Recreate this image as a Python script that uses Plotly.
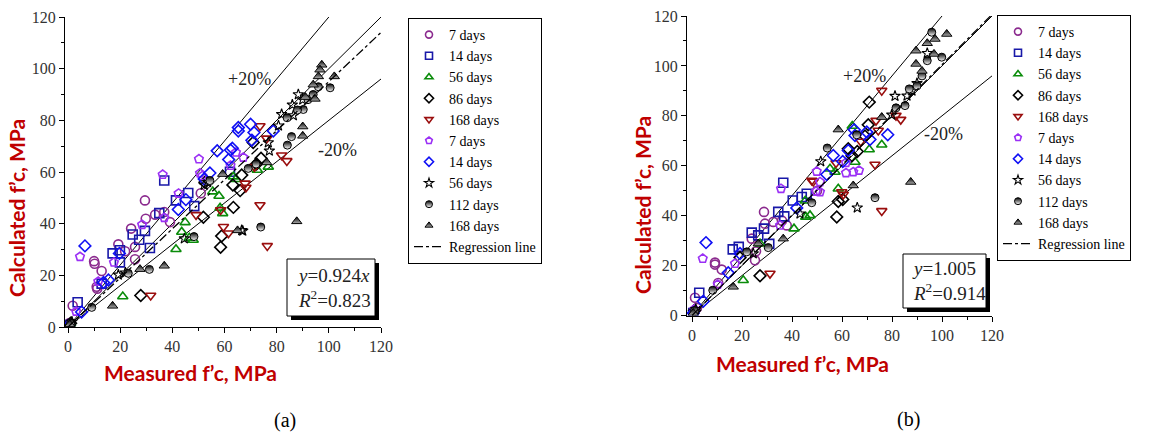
import plotly.graph_objects as go

# ---------------- data: panel (a) ----------------
a_c7_x = [0.5, 1.8, 10, 10.2, 12.9, 11, 11.2, 19.3, 21.9, 24.2, 25.7, 25.7, 29.5, 29.8, 33.4, 36.9, 39.1, 50.9]
a_c7_y = [1.5, 8.2, 25.5, 24.5, 21.7, 15.6, 14.8, 32, 29.3, 38.1, 31, 26.2, 49, 41.9, 43.5, 44.5, 40.6, 51.8]
a_s14_x = [0.3, 3.7, 12.9, 17.1, 19.9, 19.9, 24.8, 27.3, 29.5, 31.4, 35, 36.9, 41.4, 46.1, 48.4, 62.1]
a_s14_y = [0.8, 9.6, 16.8, 28.5, 29.7, 25, 35.8, 33.8, 37.2, 30.6, 44.1, 56.7, 49, 51.9, 46.8, 60.1]
a_t56_x = [1, 21, 41.4, 43.6, 44.9, 46.5, 48, 55.5, 57.9, 58.3, 59.3, 63.4, 64.4, 72.6, 76.8]
a_t56_y = [1.5, 11.8, 30.1, 36.8, 40.5, 34.5, 33.7, 52.4, 50.7, 46.1, 44, 58.2, 57.2, 60.8, 62]
a_d86_x = [1, 27.9, 51.9, 52.5, 58.5, 58.9, 63.4, 63.2, 66, 66.6, 71, 72.3, 74]
a_d86_y = [1.5, 12.2, 42.5, 56, 30.9, 35.2, 46.3, 55, 52.8, 58.8, 71.4, 63.1, 65.3]
a_v168_x = [31.7, 49.1, 58.5, 59.6, 61.5, 67.9, 68.2, 71.5, 73.6, 76.4, 73.6, 76.2, 81.9, 83.9]
a_v168_y = [12.2, 43.4, 45.3, 38.8, 36.3, 55.6, 54, 62, 47.2, 31.4, 77.8, 73, 66.5, 64.3]
a_p7_x = [3.1, 4.6, 11.6, 17.6, 28.4, 36.9, 42.4, 36.3, 50.2, 50.6, 51.5, 64.4, 67.2, 62.3]
a_p7_y = [6, 27.2, 17.6, 25, 39.6, 42.3, 51.7, 59, 65, 59.5, 58.5, 67.6, 65.6, 62.5]
a_d14_x = [0.2, 5.2, 6.5, 13.6, 15.5, 19.7, 42.3, 45.2, 52.2, 54.4, 57.2, 61.6, 62.3, 63, 65.3, 65.3, 70, 71.3, 70.5, 78.7]
a_d14_y = [0.5, 5.8, 31.4, 17.2, 18.2, 28.5, 45.5, 49.3, 57.3, 59.6, 68.2, 64.8, 68.5, 69.2, 77.2, 75.9, 78.5, 75.3, 72.3, 75.9]
a_st56_x = [1.5, 19.3, 22, 44.6, 52.2, 53.5, 66.6, 67, 76.8, 77.2, 80.7, 81.9, 86.4, 88.3, 86, 90]
a_st56_y = [2, 20.2, 21, 34.2, 55, 56, 37.4, 37.2, 71.4, 68.2, 77.9, 82.3, 81.9, 90, 86, 88]
a_h112_x = [1, 9.1, 23.1, 31.2, 48.3, 54.4, 69.1, 72.1, 73.9, 84.1, 85.7, 90.2, 100.5, 88, 92, 94, 96, 84]
a_h112_y = [1.5, 7.6, 20.8, 22.3, 35, 56.7, 61.4, 63.1, 38.7, 70.4, 73.7, 84.2, 92.6, 84, 88, 90, 93, 81]
a_t168_x = [0.7, 17.1, 27.6, 36.9, 59.3, 65, 76.2, 87.7, 90, 90, 94.7, 97.3, 96.6, 96, 102.1, 94, 91]
a_t168_y = [1, 8.2, 22.4, 23.7, 59.2, 37.4, 63.7, 40.9, 77.6, 74, 88.3, 101.5, 99.6, 97, 97, 93.8, 89]

# ---------------- data: panel (b) ----------------
b_c7_x = [1.2, 2, 9.2, 9.2, 11.9, 10.5, 23.9, 25.2, 25.6, 28.8, 29.2, 32.5, 37.9, 36, 50]
b_c7_y = [7.1, 3, 21.2, 20.4, 18.4, 13, 30.8, 22.1, 25.7, 41.5, 36.8, 37.5, 36.1, 38, 50]
b_s14_x = [0.5, 2.9, 16.3, 18.7, 23.9, 26.5, 28.8, 30.9, 34.5, 36.9, 36.5, 40.3, 43.9, 45.9]
b_s14_y = [1, 9.1, 26.5, 27.5, 33.2, 32.1, 34.8, 28.7, 41.5, 39.7, 53.2, 46.1, 47.5, 48.8]
b_t56_x = [20.5, 27.2, 40.8, 47.2, 45.5, 45.3, 55.2, 57.2, 58.5, 65.2, 64.1, 70.9, 75.9]
b_t56_y = [14.1, 28.8, 34.8, 40.1, 39.5, 46, 58.8, 57.5, 50.8, 61.5, 75.9, 66.5, 68.4]
b_d86_x = [1, 19.2, 27.2, 57.9, 58.5, 60.3, 62.5, 64, 66.1, 69.2, 70.5, 70.9]
b_d86_y = [2, 23.2, 15.9, 39.5, 45.7, 46.5, 66.8, 64, 65.7, 71.9, 76.4, 85.5]
b_v168_x = [31.2, 47.9, 48.5, 57.6, 59.9, 60.5, 67.5, 73.2, 73.6, 74.5, 75.9, 75.9, 81.6, 83.5]
b_v168_y = [16.8, 54.1, 53.7, 61.1, 49.5, 48.5, 69.7, 60.5, 78.1, 74.1, 90.1, 41.9, 80.1, 78.5]
b_p7_x = [1, 4.3, 10.3, 17.2, 35.2, 35.6, 49.6, 49.9, 51.2, 51.2, 61.6, 61.6, 64.5, 66.8]
b_p7_y = [2.5, 22.8, 12.4, 20.8, 36.1, 50.8, 49.7, 57.7, 53.5, 49.5, 57.1, 61.2, 57.5, 58.1]
b_d14_x = [0.5, 4.5, 5.6, 14.5, 19.2, 41.9, 53.9, 56.5, 60.3, 62.5, 64.9, 65.2, 69.9, 71.2, 78.3]
b_d14_y = [1, 5.7, 29.2, 17.1, 24.8, 43.1, 56.5, 64.1, 61.7, 66.1, 74.4, 72.1, 73.5, 70.5, 72.4]
b_st56_x = [1.5, 24.5, 43.2, 51.5, 66.1, 79.9, 81.2, 86, 88, 90, 94.1]
b_st56_y = [2.5, 24.8, 40.8, 61.7, 43.2, 80.4, 87.9, 88, 90, 93, 105.1]
b_h112_x = [1, 8.3, 21.9, 30.5, 47.9, 54.1, 65.9, 73.2, 81.6, 85.2, 86.9, 90, 92, 94.1, 95.9, 99.9]
b_h112_y = [2, 10.1, 25.5, 27.2, 45.2, 67.1, 72.4, 47.2, 83.2, 84.1, 90.8, 92, 96, 102.1, 113.5, 103.5]
b_t168_x = [0.5, 16.5, 26.5, 36.5, 58.5, 64.5, 75.9, 87.5, 89.6, 89.6, 92, 94.1, 96.8, 97.2, 101.9]
b_t168_y = [1, 11.5, 28.8, 30.8, 74.5, 52.1, 79.5, 53.5, 100.8, 106.1, 98, 109.1, 104.8, 110.8, 112.8]

# guide lines and regression
guide_x = [0, 120]
upper_x = [0, 100]
slope_upper, slope_equal, slope_lower = 1.2, 1.0, 0.8
reg_a_x, reg_a_y = [0, 120], [0, 114]      # dash-dot line as drawn in (a)
reg_b_x, reg_b_y = [0, 120], [0, 120.6]    # y = 1.005x in (b)

legend_names = ["7 days", "14 days", "56 days", "86 days", "168 days",
                "7 days", "14 days", "56 days", "112 days", "168 days"]

W, H = 1154, 434

def px(x):
    return x / W

def py(y):
    return 1 - y / H

SERIF = "Liberation Serif"

styles = [
    dict(symbol="circle-open", color="#8B2A8E", size=9, lw=1.6),
    dict(symbol="square-open", color="#1818A8", size=9, lw=1.6),
    dict(symbol="triangle-up-open", color="#0A8C0A", size=9, lw=1.6),
    dict(symbol="diamond-open", color="#000000", size=9, lw=1.6),
    dict(symbol="triangle-down-open", color="#9A0E0E", size=9, lw=1.6),
    dict(symbol="pentagon-open", color="#9B30F5", size=9, lw=1.6),
    dict(symbol="diamond-open", color="#1010F5", size=9, lw=1.6),
    dict(symbol="star-open", color="#000000", size=8, lw=1.1),
    dict(symbol="circle", color="#000000", size=8, lw=1, gradient=dict(type="vertical", color="#ffffff")),
    dict(symbol="triangle-up", color="#000000", size=9, lw=1, gradient=dict(type="vertical", color="#b0b0b0")),
]

series_a = [(a_c7_x, a_c7_y), (a_s14_x, a_s14_y), (a_t56_x, a_t56_y), (a_d86_x, a_d86_y),
            (a_v168_x, a_v168_y), (a_p7_x, a_p7_y), (a_d14_x, a_d14_y), (a_st56_x, a_st56_y),
            (a_h112_x, a_h112_y), (a_t168_x, a_t168_y)]
series_b = [(b_c7_x, b_c7_y), (b_s14_x, b_s14_y), (b_t56_x, b_t56_y), (b_d86_x, b_d86_y),
            (b_v168_x, b_v168_y), (b_p7_x, b_p7_y), (b_d14_x, b_d14_y), (b_st56_x, b_st56_y),
            (b_h112_x, b_h112_y), (b_t168_x, b_t168_y)]

def marker(st, size):
    is_open = st["symbol"].endswith("open")
    m = dict(symbol=st["symbol"], size=size, color=st["color"],
             line=dict(color=st["color"] if is_open else "#000000", width=st["lw"]))
    if "gradient" in st:
        m["gradient"] = st["gradient"]
    return m

fig = go.Figure()

for panel, (series, xa, ya, lg, reg) in enumerate([
        (series_a, "x", "y", "legend", (reg_a_x, reg_a_y)),
        (series_b, "x2", "y2", "legend2", (reg_b_x, reg_b_y))]):
    for xs, slope in [(upper_x, slope_upper), (guide_x, slope_equal), (guide_x, slope_lower)]:
        fig.add_trace(go.Scatter(x=xs, y=[v * slope for v in xs], mode="lines",
                                 line=dict(color="black", width=1), xaxis=xa, yaxis=ya,
                                 showlegend=False, hoverinfo="skip"))
    for (sx, sy), st, name in zip(series, styles, legend_names):
        fig.add_trace(go.Scatter(x=sx, y=sy, mode="markers", marker=marker(st, st["size"]),
                                 xaxis=xa, yaxis=ya, showlegend=False, name=name))
        fig.add_trace(go.Scatter(x=[None], y=[None], mode="markers", marker=marker(st, 7),
                                 xaxis=xa, yaxis=ya, showlegend=True, legend=lg, name=name))
    fig.add_trace(go.Scatter(x=reg[0], y=reg[1], mode="lines",
                             line=dict(color="black", width=1.3, dash="dashdot"),
                             xaxis=xa, yaxis=ya, showlegend=True, legend=lg, name="Regression line"))

axis_common = dict(showline=True, linecolor="black", linewidth=1, ticks="outside", ticklen=5,
                   tickwidth=1, tickcolor="black", dtick=20, tick0=0, showgrid=False, zeroline=False,
                   automargin=False,
                   tickfont=dict(family=SERIF, size=16, color="#333333"),
                   minor=dict(ticks="outside", ticklen=3, tickcolor="black", dtick=10, showgrid=False))

legend_common = dict(xanchor="left", yanchor="top", bordercolor="black", borderwidth=1,
                     bgcolor="white", itemwidth=30,
                     font=dict(family=SERIF, size=14, color="black"))

fig.update_layout(
    width=W, height=H, margin=dict(l=0, r=0, t=0, b=0, autoexpand=False),
    paper_bgcolor="white", plot_bgcolor="white",
    xaxis=dict(domain=[px(65), px(381)], range=[-1.15, 120], anchor="y", **axis_common),
    yaxis=dict(domain=[py(327), py(17)], range=[0, 120], anchor="x", **axis_common),
    xaxis2=dict(domain=[px(687), px(992)], range=[-2, 120], anchor="y2", **axis_common),
    yaxis2=dict(domain=[py(315.5), py(16)], range=[0, 120], anchor="x2", **axis_common),
    legend=dict(x=px(408), y=py(18), **legend_common),
    legend2=dict(x=px(997), y=py(15), **legend_common),
)

# text boxes with shadow
for (x0, y0, x1, y1) in [(287, 259, 375, 316), (903, 254, 986, 308)]:
    fig.add_shape(type="rect", xref="paper", yref="paper", x0=px(x0 + 4), x1=px(x1 + 4),
                  y0=py(y1 + 4), y1=py(y0 + 4), fillcolor="black", line=dict(width=0))
    fig.add_shape(type="rect", xref="paper", yref="paper", x0=px(x0), x1=px(x1),
                  y0=py(y1), y1=py(y0), fillcolor="white", line=dict(color="black", width=1))

ann_font = dict(family=SERIF, size=19, color="#222222")
fig.add_annotation(xref="paper", yref="paper", x=px(295), y=py(288), xanchor="left", yanchor="middle",
                   text="<i>y</i>=0.924<i>x</i><br><i>R</i><sup>2</sup>=0.823", showarrow=False,
                   align="left", font=ann_font)
fig.add_annotation(xref="paper", yref="paper", x=px(910), y=py(281), xanchor="left", yanchor="middle",
                   text="<i>y</i>=1.005<br><i>R</i><sup>2</sup>=0.914", showarrow=False,
                   align="left", font=ann_font)

pct_font = dict(family=SERIF, size=18, color="#222222")
for (x, y, t) in [(249, 79, "+20%"), (337, 149.5, "-20%"), (864, 76, "+20%"), (943, 134, "-20%")]:
    fig.add_annotation(xref="paper", yref="paper", x=px(x), y=py(y), text=t, showarrow=False,
                       xanchor="center", yanchor="middle", font=pct_font)

title_font = dict(family="Lato", size=21, color="#C00000")
for (x, y, t, ang) in [(190, 372, "Measured f’c, MPa", 0), (802, 363, "Measured f’c, MPa", 0),
                       (17, 208, "Calculated f’c, MPa", -90), (642, 205, "Calculated f’c, MPa", -90)]:
    fig.add_annotation(xref="paper", yref="paper", x=px(x), y=py(y), text="<b>" + t + "</b>",
                       showarrow=False, textangle=ang, xanchor="center", yanchor="middle",
                       font=title_font)

for (x, y, t) in [(285, 420, "(a)"), (908, 419, "(b)")]:
    fig.add_annotation(xref="paper", yref="paper", x=px(x), y=py(y), text=t, showarrow=False,
                       xanchor="center", yanchor="middle",
                       font=dict(family=SERIF, size=20, color="black"))

fig.write_html("out.html", config={"displayModeBar": False},
               post_script="document.body.style.margin='0';document.body.style.overflow='hidden';")
